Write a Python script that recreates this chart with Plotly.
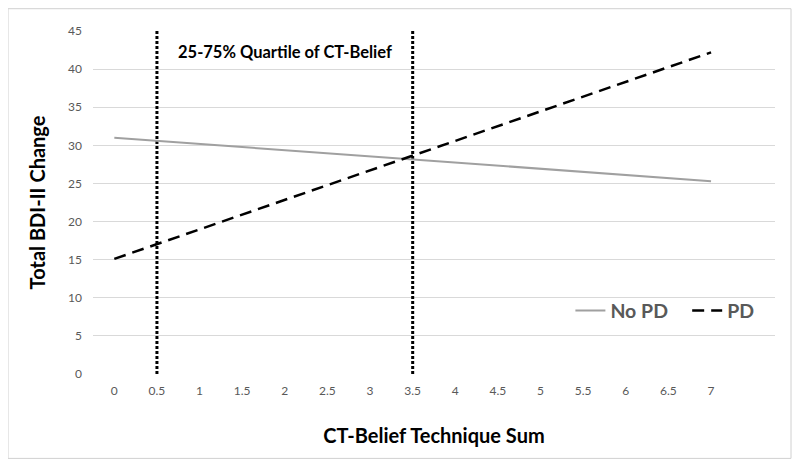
import plotly.graph_objects as go

# Data
x_ends = [0, 7]
no_pd = [31.0, 25.3]
pd_vals = [15.1, 42.2]
quartile_x = [0.5, 3.5]
quartile_y = [0, 45]
x_ticks = [0, 0.5, 1, 1.5, 2, 2.5, 3, 3.5, 4, 4.5, 5, 5.5, 6, 6.5, 7]
x_tick_labels = ["0", "0.5", "1", "1.5", "2", "2.5", "3", "3.5", "4", "4.5", "5", "5.5", "6", "6.5", "7"]
y_ticks = [0, 5, 10, 15, 20, 25, 30, 35, 40, 45]

FONT = "Lato, 'Open Sans', sans-serif"
fig = go.Figure()

for qx in quartile_x:
    fig.add_trace(go.Scatter(x=[qx, qx], y=quartile_y, mode="lines",
                             line=dict(color="black", width=3, dash="3px,2px"),
                             showlegend=False, hoverinfo="skip"))

fig.add_trace(go.Scatter(x=x_ends, y=no_pd, mode="lines", name="No PD   ",
                         line=dict(color="#a0a0a0", width=2)))
fig.add_trace(go.Scatter(x=x_ends, y=pd_vals, mode="lines", name="PD",
                         line=dict(color="black", width=2.5, dash="12px,7px")))

fig.add_annotation(x=2.0, y=42.2, text="<b>25-75% Quartile of CT-Belief</b>",
                   showarrow=False, font=dict(family=FONT, size=16.5, color="black"))

fig.add_shape(type="rect", xref="paper", yref="paper",
              x0=-0.1246, x1=1.0235, y0=-0.246, y1=1.065,
              line=dict(color="#d0d0d0", width=1), fillcolor="rgba(0,0,0,0)")

fig.update_layout(
    width=800, height=466,
    margin=dict(l=85, r=33, t=23, b=100),
    paper_bgcolor="white", plot_bgcolor="white",
    font=dict(family=FONT, color="#595959"),
    legend=dict(orientation="h", x=0.70, y=0.184, xanchor="left", yanchor="middle",
                font=dict(family=FONT, size=19.5, color="#595959", weight="bold"),
                bgcolor="rgba(0,0,0,0)", itemwidth=30, tracegroupgap=0),
    xaxis=dict(range=[-0.25, 7.75], tickvals=x_ticks, ticktext=x_tick_labels,
               showgrid=False, zeroline=False, showline=False,
               tickfont=dict(size=12, color="#595959"), ticks="", ticklabelstandoff=8,
               title=dict(text="<b>CT-Belief Technique Sum</b>", standoff=31,
                          font=dict(family=FONT, size=20, color="black"))),
    yaxis=dict(range=[0, 45], tickvals=y_ticks, showgrid=True, gridcolor="#d9d9d9",
               gridwidth=1, zeroline=False, showline=False, ticks="",
               ticklabelstandoff=10,
               tickfont=dict(size=12, color="#595959"),
               title=dict(text="<b>Total BDI-II Change</b>", standoff=17,
                          font=dict(family=FONT, size=20, color="black"))),
)

fig.write_html("out.html")
